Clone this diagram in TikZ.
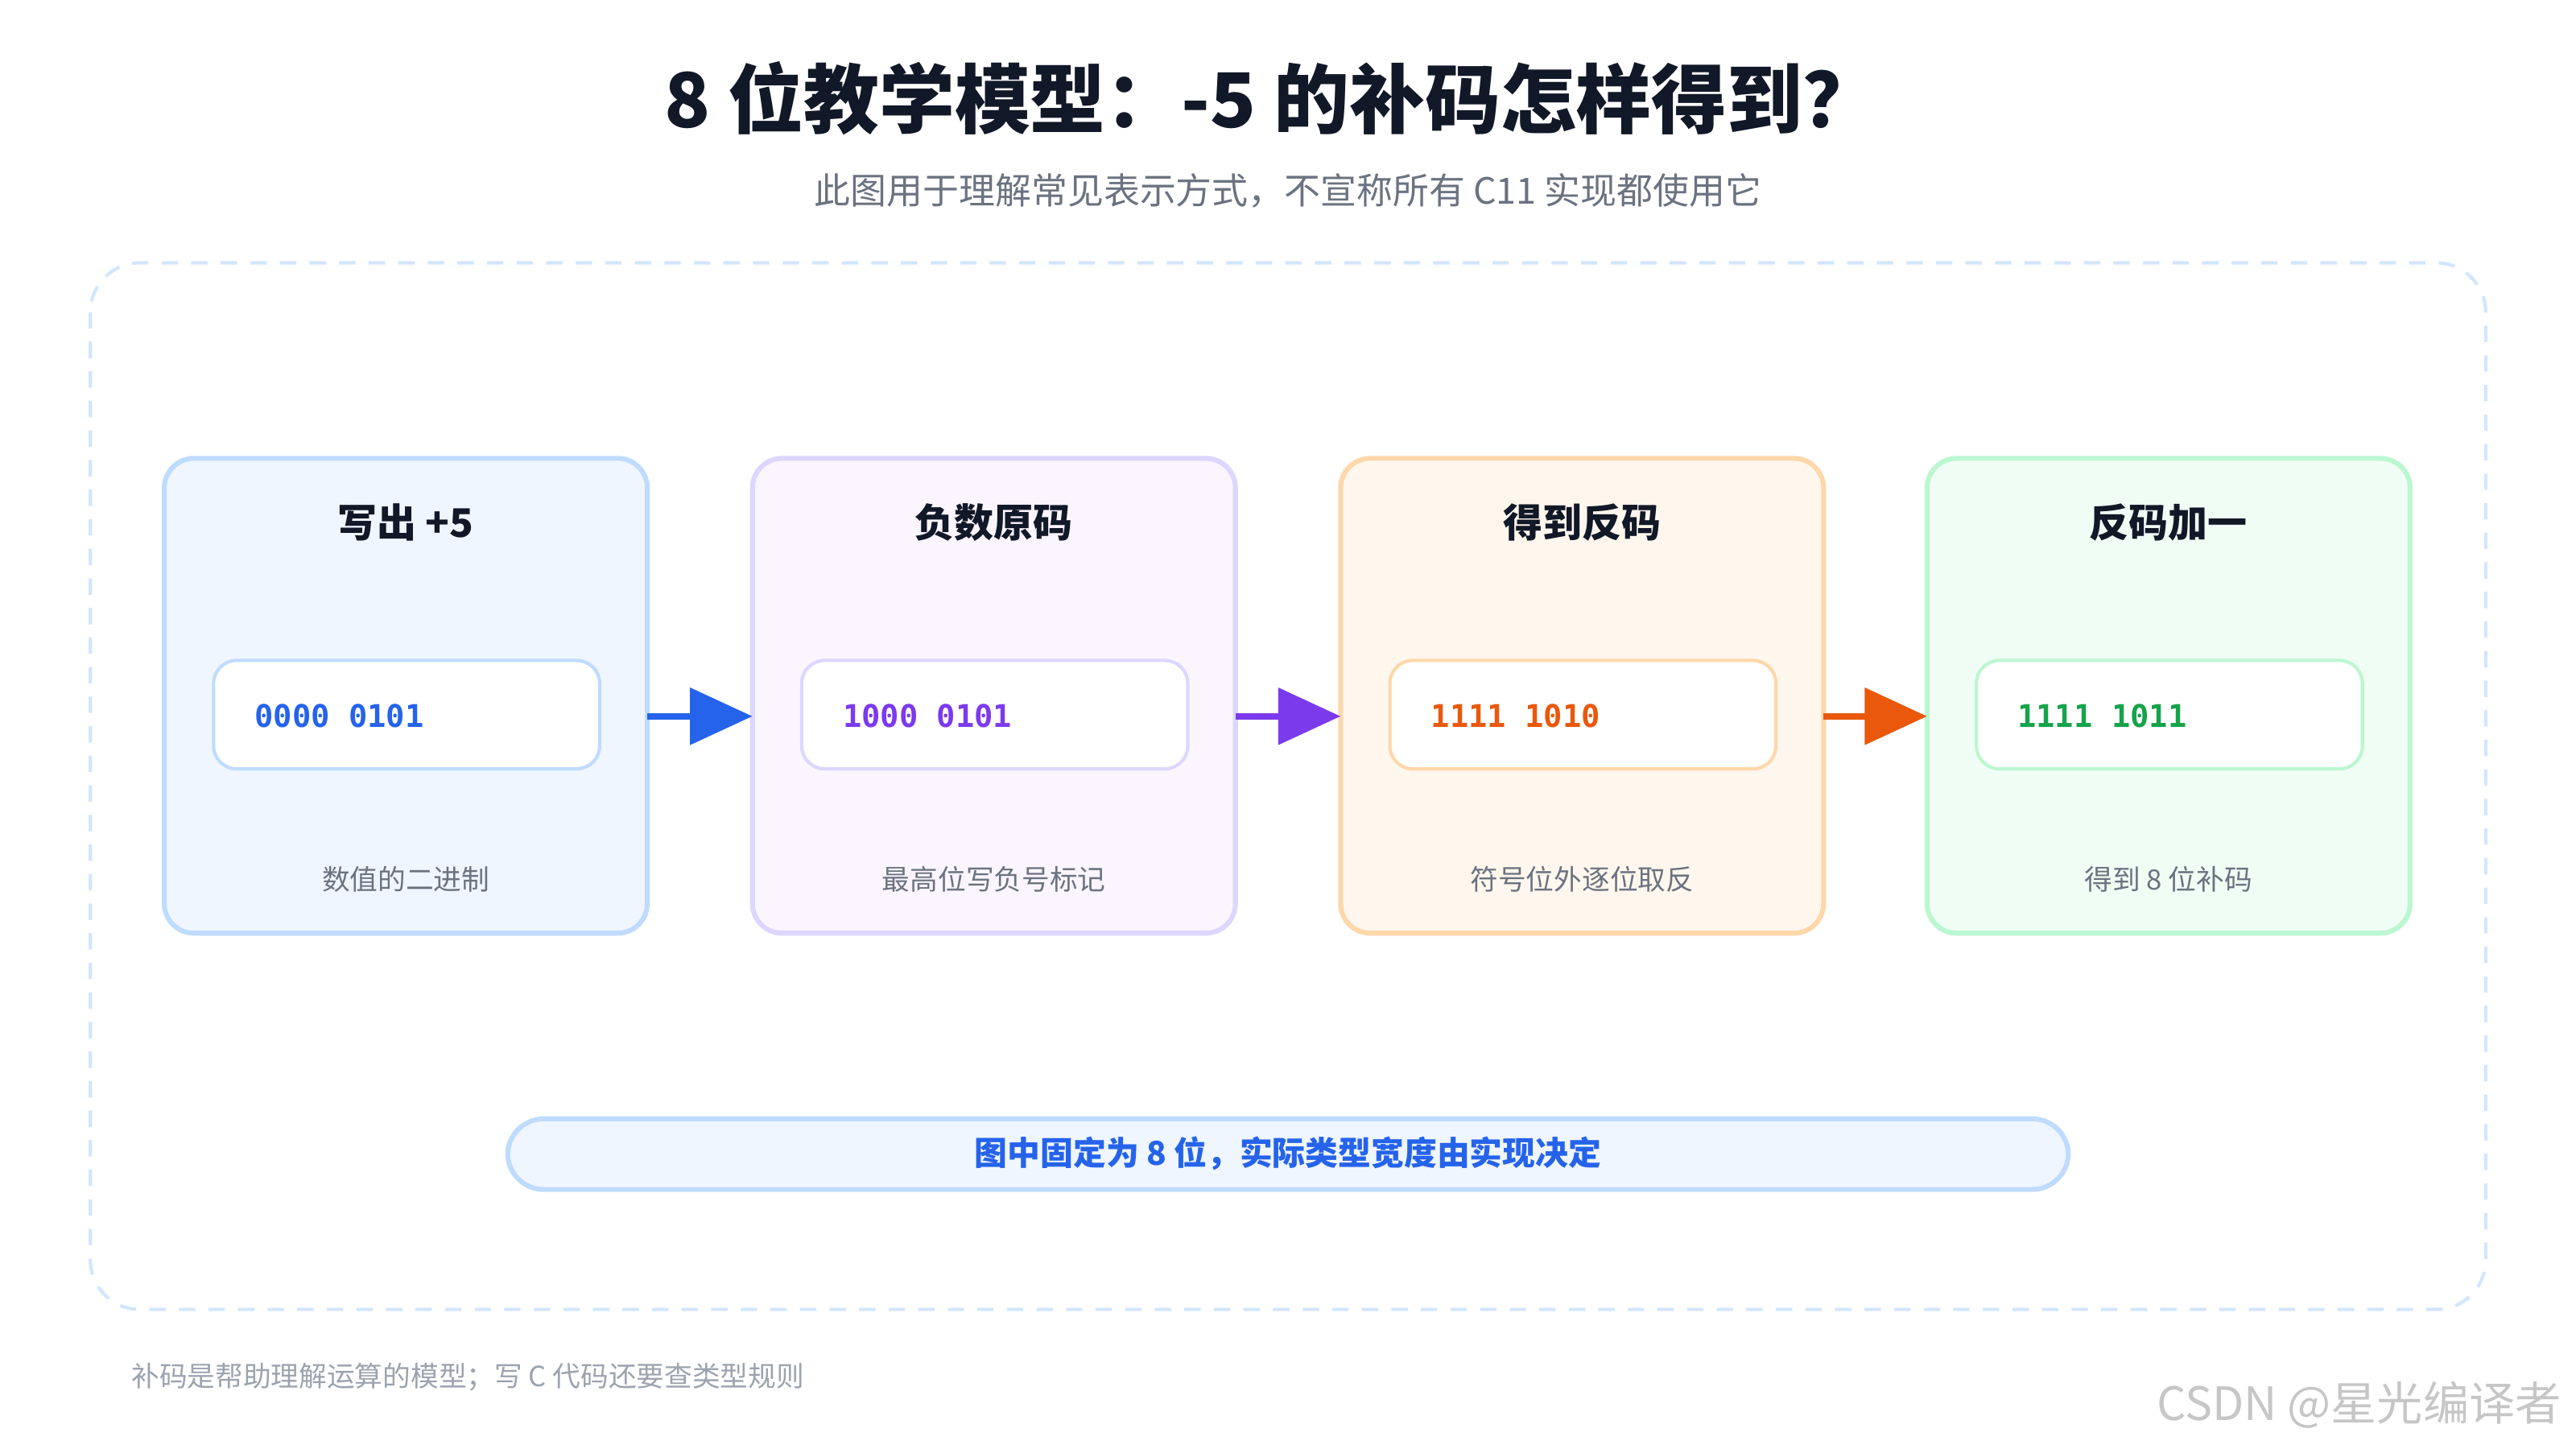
\documentclass[tikz,border=0pt]{standalone}
\usepackage{fontspec}
\setmainfont{Noto Sans CJK SC}
\newfontfamily\cjk{Noto Sans CJK SC}
\newfontfamily\codefont{DejaVu Sans Mono}
\usetikzlibrary{arrows.meta}
\definecolor{tblue}{HTML}{2563EB}\definecolor{fblue}{HTML}{EFF6FF}\definecolor{bblue}{HTML}{BFDBFE}
\definecolor{tpur}{HTML}{7C3AED}\definecolor{fpur}{HTML}{FAF5FF}\definecolor{bpur}{HTML}{DDD6FE}
\definecolor{tora}{HTML}{EA580C}\definecolor{fora}{HTML}{FFF7ED}\definecolor{bora}{HTML}{FED7AA}
\definecolor{tgre}{HTML}{16A34A}\definecolor{fgre}{HTML}{F0FDF4}\definecolor{bgre}{HTML}{BBF7D0}
\definecolor{ink}{HTML}{111827}\definecolor{gray1}{HTML}{6B7280}\definecolor{gray2}{HTML}{9CA3AF}
\begin{document}
\begin{tikzpicture}[x=0.5pt,y=-0.5pt,
  card/.style={rounded corners=9pt,line width=1.5pt},
  inner/.style={rounded corners=7pt,fill=white,line width=1pt},
  ctitle/.style={font=\cjk\bfseries\fontsize{12}{14}\selectfont,text=ink},
  code/.style={font=\codefont\bfseries\fontsize{9.5}{11}\selectfont,anchor=west},
  captxt/.style={font=\cjk\fontsize{8.5}{10}\selectfont,text=gray1},
  arr/.style={line width=2pt,-{Triangle[length=19pt,width=17pt]}}]
\useasboundingbox (0,0) rectangle (1568,882);
\fill[white] (0,0) rectangle (1568,882);
\node (title) at (774,60) {\cjk\bfseries\fontsize{23}{28}\selectfont\color{ink}8 位教学模型：-5 的补码怎样得到？};
\node (sub) at (784,116) {\cjk\fontsize{11}{13}\selectfont\color{gray1}此图用于理解常见表示方式，不宣称所有 C11 实现都使用它};
\draw[bblue!70,line width=1pt,dash pattern=on 5pt off 4pt,rounded corners=15pt] (55,160) rectangle (1513,797);
\foreach \i/\x/\t/\f/\b/\tt/\cd/\cp in {
 1/100/tblue/fblue/bblue/写出 +5/0000 0101/数值的二进制,
 2/458/tpur/fpur/bpur/负数原码/1000 0101/最高位写负号标记,
 3/816/tora/fora/bora/得到反码/1111 1010/符号位外逐位取反,
 4/1173/tgre/fgre/bgre/反码加一/1111 1011/得到 8 位补码}{
 \draw[card,fill=\f,draw=\b] (\x,279) rectangle ++(294,289);
 \coordinate (L\i) at (\x,436); \coordinate (R\i) at (\x+294,436);
 \node[ctitle] (t\i) at (\x+147,318) {\tt};
 \draw[inner,draw=\b] (\x+30,402) rectangle ++(235,66);
 \node[code,text=\t] (c\i) at (\x+48,436) {\cd};
 \node[captxt] (p\i) at (\x+147,535) {\cp};
}
\draw[arr,tblue] (R1) -- (L2);
\draw[arr,tpur] (R2) -- (L3);
\draw[arr,tora] (R3) -- (L4);
\draw[fill=fblue,draw=bblue,line width=1.5pt,rounded corners=11pt] (309,681) rectangle (1259,724);
\node (note) at (784,702) {\cjk\bfseries\fontsize{10}{12}\selectfont\color{tblue}图中固定为 8 位，实际类型宽度由实现决定};
\node[anchor=west] (foot) at (73,838) {\cjk\fontsize{8.5}{10}\selectfont\color{gray2}补码是帮助理解运算的模型；写 C 代码还要查类型规则};
\node[anchor=east] (wm) at (1566,855) {\cjk\fontsize{14}{16}\selectfont\color{gray!45}CSDN @星光编译者};
\end{tikzpicture}
\end{document}
